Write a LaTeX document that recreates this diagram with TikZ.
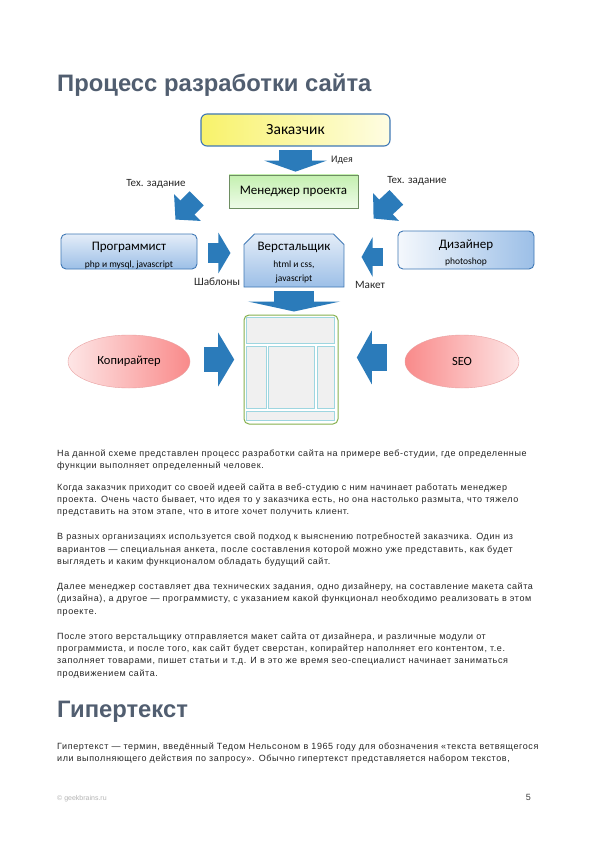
\documentclass[tikz,border=0pt]{standalone}
\usepackage{fontspec}
\setmainfont{Liberation Sans}
\newfontfamily\diagfont{Carlito}
\newfontfamily\bodyfont[LetterSpace=6.7]{Liberation Sans}
\usetikzlibrary{arrows.meta, positioning, calc, shapes.geometric, shapes.misc}
\definecolor{headink}{HTML}{515E70}
\definecolor{bodyink}{HTML}{262626}
\definecolor{footink}{HTML}{B4B4B4}
\definecolor{arrowblue}{HTML}{2B7BBA}
\definecolor{boxline}{HTML}{3F78B5}
\definecolor{yelA}{HTML}{F8F26A}
\definecolor{yelB}{HTML}{FEFDE3}
\definecolor{grnA}{HTML}{C4F0B0}
\definecolor{grnB}{HTML}{EEFBE8}
\definecolor{grnline}{HTML}{6E8E62}
\definecolor{bluA}{HTML}{E4EDF8}
\definecolor{bluB}{HTML}{9CBFE7}
\definecolor{pinkA}{HTML}{FDE6E6}
\definecolor{pinkB}{HTML}{F98A8A}
\definecolor{pinkline}{HTML}{E9A0A0}
\definecolor{layline}{HTML}{86B04E}
\definecolor{panelfill}{HTML}{F0F0F0}
\definecolor{panelline}{HTML}{9ED6E0}
\tikzset{
  heading/.style={anchor=base west, text=headink, inner sep=0pt,
    font=\bfseries\fontsize{23.8}{28}\selectfont},
  bodyline/.style={anchor=base west, text=bodyink, inner sep=0pt,
    font=\bodyfont\fontsize{9}{11}\selectfont},
  role/.style={draw=boxline, line width=0.9pt, rounded corners=5pt, align=center,
    inner sep=0pt, top color=bluA, bottom color=bluB,
    font=\diagfont\fontsize{13}{14}\selectfont},
  note/.style={font=\diagfont\fontsize{11}{12}\selectfont, text=black!85},
  fat/.style n args={3}{arrowblue, line width=#1, -{Triangle[width=#2, length=#3]}},
  panel/.style={fill=panelfill, draw=panelline, line width=1.5pt},
}
\newcommand{\subtxt}{\fontsize{9.5}{11}\selectfont}

\begin{document}
\begin{tikzpicture}[x=1pt, y=-1pt]
  \fill[white] (0,0) rectangle (595,842);
  \useasboundingbox (0,0) rectangle (595,842);

  \node[heading] (title) at (57,92) {Процесс разработки сайта};

  % diagram
  \node[draw=boxline, line width=1.1pt, rounded corners=6pt, left color=yelA, right color=yelB,
        minimum width=189pt, minimum height=32pt, font=\diagfont\fontsize{15.5}{16}\selectfont]
        (zak) at (295.5,130) {Заказчик};
  \node[draw=grnline, line width=0.7pt, top color=grnA, bottom color=grnB,
        minimum width=129pt, minimum height=33pt, font=\diagfont\fontsize{13}{14}\selectfont]
        (men) at (293.5,191.5) {Менеджер проекта};
  \node[role, minimum width=136pt, minimum height=35pt] (prog) at (129,251.5)
        {\rule{0pt}{16pt}Программист\\[3pt]\subtxt php и mysql, javascript};
  \node[role, chamfered rectangle, chamfered rectangle corners={north west, north east},
        chamfered rectangle xsep=7pt, rounded corners=0pt,
        minimum width=100pt, minimum height=53pt] (ver) at (294,260.5)
        {\rule{0pt}{13pt}Верстальщик\\[3pt]\subtxt html и css,\\\subtxt javascript};
  \node[role, left color=bluA!40, right color=bluB, minimum width=136pt, minimum height=38pt]
        (dis) at (466,250) {\rule{0pt}{15pt}Дизайнер\\[2pt]\subtxt photoshop};
  \node[draw=layline, line width=1pt, rounded corners=5pt, fill=white,
        minimum width=94pt, minimum height=109pt] (lay) at (291,369.5) {};
  \foreach \xa/\ya/\xb/\yb in {3/3/91/29, 3/32/23/94, 25/32/71/94, 74/32/91/94, 3/97/91/106}
    \draw[panel] ($(lay.north west)+(\xa,\ya)$) rectangle ($(lay.north west)+(\xb,\yb)$);
  \node[ellipse, draw=pinkline, left color=pinkA, right color=pinkB,
        minimum width=122pt, minimum height=53pt, font=\diagfont\fontsize{12.5}{13}\selectfont]
        (kop) at (129,361.5) {Копирайтер};
  \node[ellipse, draw=pinkline, left color=pinkB, right color=pinkA,
        minimum width=114pt, minimum height=53pt, font=\diagfont\fontsize{12.5}{13}\selectfont]
        (seo) at (462,361.5) {SEO};

  % block arrows
  \draw[fat={33pt}{62pt}{11pt}] ($(zak.south)+(0,3)$) -- ($(zak.south |- men.north)+(0,-3)$);
  \draw[fat={20pt}{37pt}{17pt}] ($(men.south west)+(-32,-10)$) -- ($(prog.north east)+(-22,-14)$);
  \draw[fat={20pt}{37pt}{17pt}] ($(men.south east)+(38,-11)$) -- ($(dis.north west)+(-24,-12)$);
  \draw[fat={20pt}{40pt}{12pt}] ($(prog.east)+(11,1.5)$) -- ++(22,0);
  \draw[fat={18pt}{39pt}{11pt}] ($(dis.west)+(-15,7)$) -- ++(-21,0);
  \draw[fat={40pt}{92pt}{10pt}] ($(ver.south)+(0,4)$) -- ($(ver.south |- lay.north)+(0,-3)$);
  \draw[fat={25pt}{53pt}{16pt}] ($(kop.east)+(14,-2)$) -- ++(30,0);
  \draw[fat={27pt}{53pt}{15pt}] ($(seo.west)+(-18,-4)$) -- ++(-30,0);

  \node[note, font=\diagfont\fontsize{10}{11}\selectfont] (idea) at (342,160) {Идея};
  \node[note] (tzl) at (156,184) {Тех. задание};
  \node[note] (tzr) at (417,181) {Тех. задание};
  \node[note, font=\diagfont\fontsize{11.2}{12}\selectfont] (shab) at (217,282) {Шаблоны};
  \node[note, font=\diagfont\fontsize{11.2}{12}\selectfont] (maket) at (370,285) {Макет};

  % text
  \foreach \y/\txt [count=\n] in {
    456/{На данной схеме представлен процесс разработки сайта на примере веб-студии, где определенные},
    468/{функции выполняет определенный человек.},
    490/{Когда заказчик приходит со своей идеей сайта в веб-студию с ним начинает работать менеджер},
    502/{проекта. Очень часто бывает, что идея то у заказчика есть, но она настолько размыта, что тяжело},
    514/{представить на этом этапе, что в итоге хочет получить клиент.},
    539/{В разных организациях используется свой подход к выяснению потребностей заказчика. Один из},
    552/{вариантов — специальная анкета, после составления которой можно уже представить, как будет},
    564/{выглядеть и каким функционалом обладать будущий сайт.},
    589/{Далее менеджер составляет два технических задания, одно дизайнеру, на составление макета сайта},
    601/{(дизайна), а другое — программисту, с указанием какой функционал необходимо реализовать в этом},
    614/{проекте.},
    639/{После этого верстальщику отправляется макет сайта от дизайнера, и различные модули от},
    651/{программиста, и после того, как сайт будет сверстан, копирайтер наполняет его контентом, т.е.},
    663/{заполняет товарами, пишет статьи и т.д. И в это же время seo-специалист начинает заниматься},
    676/{продвижением сайта.},
    749/{Гипертекст — термин, введённый Тедом Нельсоном в 1965 году для обозначения «текста ветвящегося},
    761/{или выполняющего действия по запросу». Обычно гипертекст представляется набором текстов,}}
    \node[bodyline] (line\n) at (57,\y) {\txt};

  \node[heading] (hyper) at (57,717) {Гипертекст};

  \node[anchor=base west, inner sep=0pt, text=footink, font=\fontsize{7}{8}\selectfont]
        (site) at (57,800) {© geekbrains.ru};
  \node[anchor=base east, inner sep=0pt, text=black!75, font=\fontsize{9}{10}\selectfont]
        (pageno) at (531,800) {5};
\end{tikzpicture}
\end{document}
